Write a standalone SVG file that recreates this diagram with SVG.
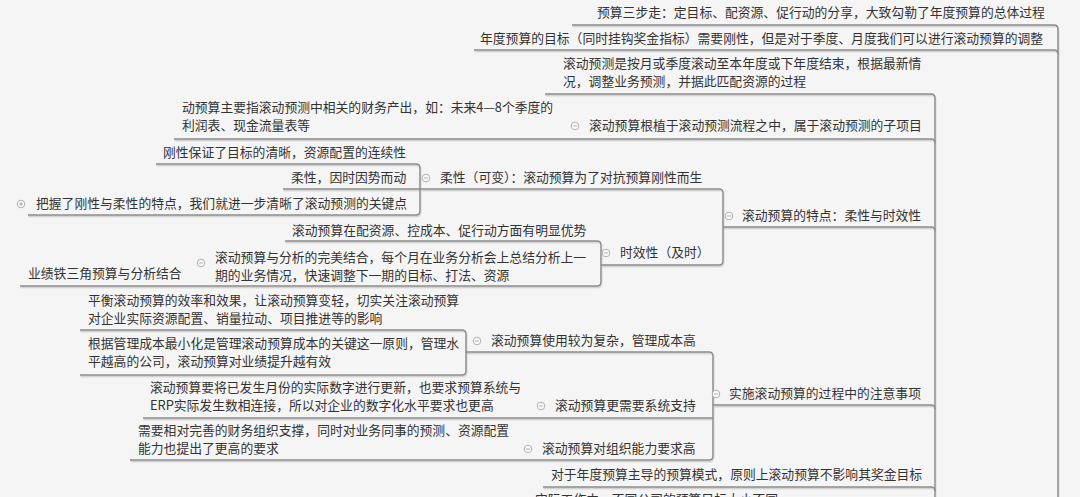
<svg xmlns="http://www.w3.org/2000/svg" width="1080" height="497" viewBox="0 0 1080 497">
<defs>
<style>
.t{font-family:"Noto Sans CJK SC","Microsoft YaHei",sans-serif;font-size:12.8px;fill:#333}
.ln{fill:none;stroke:#8c8c8c;stroke-width:1.4}
.btn{fill:#fafafa;stroke:#a8a8a8;stroke-width:0.9}
.bm{stroke:#a8a8a8;stroke-width:0.9}
</style>
<filter id="sh" x="-5%" y="-5%" width="110%" height="120%">
<feDropShadow dx="0.5" dy="1.4" stdDeviation="0.6" flood-color="#000" flood-opacity="0.18"/>
</filter>
</defs>
<rect width="1080" height="497" fill="#f5f5f5"/>
<g id="connectors" class="ln" filter="url(#sh)">
<path d="M572,25 H1054 Q1058,25 1058,29 V497"/>
<path d="M474,50 H1054 Q1058,50 1058,54"/>
<path d="M545,94 H931 Q935,94 935,98 V497"/>
<path d="M174,139 H931 Q935,139 935,143"/>
<path d="M723,227 H931 Q935,227 935,231"/>
<path d="M713,405 H931 Q935,405 935,409"/>
<path d="M543,487 H931 Q935,487 935,491"/>
<path d="M420,189 H719 Q723,189 723,193 V261 Q723,265 719,265 H601"/>
<path d="M156,164 H416 Q420,164 420,168 V211 Q420,215 416,215 H28"/>
<path d="M283,189 H420"/>
<path d="M285,241 H597 Q601,241 601,245 V282 Q601,286 597,286 H20"/>
<path d="M80,330 H462 Q466,330 466,334 V371 Q466,375 462,375 H80"/>
<path d="M466,352 H709 Q713,352 713,356 V456 Q713,460 709,460 H130"/>
<path d="M143,418 H713"/>
</g>
<g id="n1"><text class="t" x="597" y="17">预算三步走：定目标、配资源、促行动的分享，大致勾勒了年度预算的总体过程</text></g>
<g id="n2"><text class="t" x="480" y="43">年度预算的目标（同时挂钩奖金指标）需要刚性，但是对于季度、月度我们可以进行滚动预算的调整</text></g>
<g id="n3"><text class="t" x="563" y="68">滚动预测是按月或季度滚动至本年度或下年度结束，根据最新情</text><text class="t" x="563" y="86">况，调整业务预测，并据此匹配资源的过程</text></g>
<g id="n4"><text class="t" x="182" y="112">动预算主要指滚动预测中相关的财务产出，如：未来4—8个季度的</text><text class="t" x="182" y="130">利润表、现金流量表等</text></g>
<g id="n5"><circle class="btn" cx="575" cy="126" r="3.8"/><path class="bm" d="M573,126 H577"/><text class="t" x="589" y="130">滚动预算根植于滚动预测流程之中，属于滚动预测的子项目</text></g>
<g id="n6"><text class="t" x="163" y="157">刚性保证了目标的清晰，资源配置的连续性</text></g>
<g id="n7"><text class="t" x="291" y="182">柔性，因时因势而动</text></g>
<g id="n8"><circle class="btn" cx="426" cy="178" r="3.8"/><path class="bm" d="M424,178 H428"/><text class="t" x="440" y="182">柔性（可变）：滚动预算为了对抗预算刚性而生</text></g>
<g id="n9"><circle class="btn" cx="21" cy="204" r="3.8"/><path class="bm" d="M19,204 H23 M21,202 V206"/><text class="t" x="36" y="208">把握了刚性与柔性的特点，我们就进一步清晰了滚动预测的关键点</text></g>
<g id="n10"><circle class="btn" cx="729" cy="216" r="3.8"/><path class="bm" d="M727,216 H731"/><text class="t" x="742" y="220">滚动预算的特点：柔性与时效性</text></g>
<g id="n11"><text class="t" x="292" y="235">滚动预算在配资源、控成本、促行动方面有明显优势</text></g>
<g id="n12"><circle class="btn" cx="606" cy="253" r="3.8"/><path class="bm" d="M604,253 H608"/><text class="t" x="620" y="257">时效性（及时）</text></g>
<g id="n13"><circle class="btn" cx="201" cy="263" r="3.8"/><path class="bm" d="M199,263 H203"/><text class="t" x="215" y="262">滚动预算与分析的完美结合，每个月在业务分析会上总结分析上一</text><text class="t" x="215" y="280">期的业务情况，快速调整下一期的目标、打法、资源</text></g>
<g id="n14"><text class="t" x="28" y="278">业绩铁三角预算与分析结合</text></g>
<g id="n15"><text class="t" x="88" y="305">平衡滚动预算的效率和效果，让滚动预算变轻，切实关注滚动预算</text><text class="t" x="88" y="323">对企业实际资源配置、销量拉动、项目推进等的影响</text></g>
<g id="n16"><circle class="btn" cx="477" cy="341" r="3.8"/><path class="bm" d="M475,341 H479"/><text class="t" x="491" y="345">滚动预算使用较为复杂，管理成本高</text></g>
<g id="n17"><text class="t" x="88" y="348">根据管理成本最小化是管理滚动预算成本的关键这一原则，管理水</text><text class="t" x="88" y="366">平越高的公司，滚动预算对业绩提升越有效</text></g>
<g id="n18"><text class="t" x="150" y="392">滚动预算要将已发生月份的实际数字进行更新，也要求预算系统与</text><text class="t" x="150" y="410">ERP实际发生数相连接，所以对企业的数字化水平要求也更高</text></g>
<g id="n19"><circle class="btn" cx="541" cy="406" r="3.8"/><path class="bm" d="M539,406 H543"/><text class="t" x="555" y="410">滚动预算更需要系统支持</text></g>
<g id="n20"><circle class="btn" cx="716" cy="394" r="3.8"/><path class="bm" d="M714,394 H718"/><text class="t" x="729" y="398">实施滚动预算的过程中的注意事项</text></g>
<g id="n21"><text class="t" x="138" y="435">需要相对完善的财务组织支撑，同时对业务同事的预测、资源配置</text><text class="t" x="138" y="453">能力也提出了更高的要求</text></g>
<g id="n22"><circle class="btn" cx="528" cy="449" r="3.8"/><path class="bm" d="M526,449 H530"/><text class="t" x="542" y="453">滚动预算对组织能力要求高</text></g>
<g id="n23"><text class="t" x="551" y="479">对于年度预算主导的预算模式，原则上滚动预算不影响其奖金目标</text></g>
<g id="n24"><text class="t" x="535" y="504">实际工作中，不同公司的预算目标大小不同</text></g>
</svg>
